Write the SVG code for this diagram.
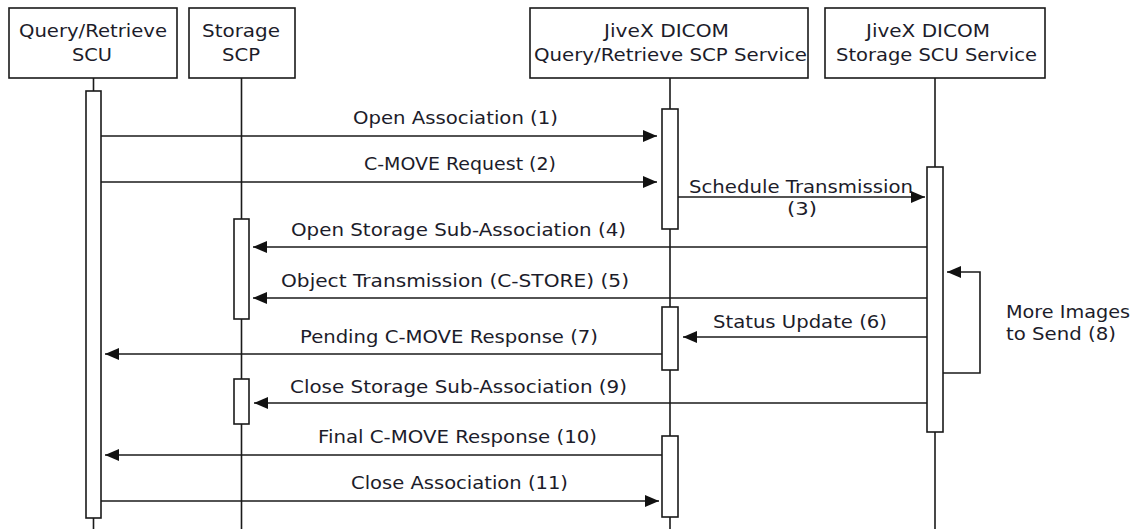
<svg xmlns="http://www.w3.org/2000/svg" width="1136" height="529" viewBox="0 0 1136 529">
  <defs>
    <style>
      .box { fill: #ffffff; stroke: #1a1a1a; stroke-width: 1.6; }
      .life { stroke: #1a1a1a; stroke-width: 1.6; fill: none; }
      .bar { fill: #ffffff; stroke: #1a1a1a; stroke-width: 1.6; }
      .msg { stroke: #1a1a1a; stroke-width: 1.6; fill: none; marker-end: url(#head); }
      text { font-family: "DejaVu Sans", Verdana, sans-serif; font-size: 17px; fill: #1c1c2a; }
    </style>
    <marker id="head" markerUnits="userSpaceOnUse" viewBox="0 0 14 12" refX="14" refY="6" markerWidth="14" markerHeight="12" orient="auto">
      <path d="M0,0 L14,6 L0,12 Z" fill="#111111"/>
    </marker>
  </defs>
  <rect width="1136" height="529" fill="#ffffff"/>

  <!-- lifeline: Query/Retrieve SCU -->
  <g id="node-qr-scu">
    <rect class="box" x="9" y="8" width="168" height="70"/>
    <text x="19" y="37" textLength="148" lengthAdjust="spacingAndGlyphs">Query/Retrieve</text>
    <text x="72" y="61" textLength="40" lengthAdjust="spacingAndGlyphs">SCU</text>
    <line class="life" x1="93.5" y1="78" x2="93.5" y2="529"/>
    <rect class="bar" x="86" y="91" width="15" height="427"/>
  </g>

  <!-- lifeline: Storage SCP -->
  <g id="node-storage-scp">
    <rect class="box" x="189" y="8" width="106" height="70"/>
    <text x="202" y="37" textLength="78" lengthAdjust="spacingAndGlyphs">Storage</text>
    <text x="222" y="61" textLength="38" lengthAdjust="spacingAndGlyphs">SCP</text>
    <line class="life" x1="241.5" y1="78" x2="241.5" y2="529"/>
    <rect class="bar" x="234" y="219" width="15" height="100"/>
    <rect class="bar" x="234" y="379" width="15" height="45"/>
  </g>

  <!-- lifeline: JiveX DICOM Query/Retrieve SCP Service -->
  <g id="node-qr-scp">
    <rect class="box" x="530" y="8" width="278" height="70"/>
    <text x="604" y="37" textLength="125" lengthAdjust="spacingAndGlyphs">JiveX DICOM</text>
    <text x="534" y="61" textLength="273" lengthAdjust="spacingAndGlyphs">Query/Retrieve SCP Service</text>
    <line class="life" x1="670" y1="78" x2="670" y2="529"/>
    <rect class="bar" x="662" y="109" width="16" height="120"/>
    <rect class="bar" x="662" y="307" width="16" height="63"/>
    <rect class="bar" x="662" y="436" width="16" height="81"/>
  </g>

  <!-- lifeline: JiveX DICOM Storage SCU Service -->
  <g id="node-storage-scu">
    <rect class="box" x="825" y="8" width="220" height="70"/>
    <text x="866" y="37" textLength="124" lengthAdjust="spacingAndGlyphs">JiveX DICOM</text>
    <text x="836" y="61" textLength="201" lengthAdjust="spacingAndGlyphs">Storage SCU Service</text>
    <line class="life" x1="935" y1="78" x2="935" y2="529"/>
    <rect class="bar" x="927" y="167" width="16" height="265"/>
  </g>

  <!-- messages -->
  <g id="connectors">
    <path class="msg" d="M101,136 H657"/>
    <text x="353" y="124" textLength="205" lengthAdjust="spacingAndGlyphs">Open Association (1)</text>

    <path class="msg" d="M101,182 H657"/>
    <text x="364" y="170" textLength="192" lengthAdjust="spacingAndGlyphs">C-MOVE Request (2)</text>

    <path class="msg" d="M678,197 H925"/>
    <text x="689" y="193" textLength="224" lengthAdjust="spacingAndGlyphs">Schedule Transmission</text>
    <text x="787" y="215" textLength="30" lengthAdjust="spacingAndGlyphs">(3)</text>

    <path class="msg" d="M927,247 H253"/>
    <text x="291" y="236" textLength="335" lengthAdjust="spacingAndGlyphs">Open Storage Sub-Association (4)</text>

    <path class="msg" d="M927,298 H253"/>
    <text x="281" y="287" textLength="348" lengthAdjust="spacingAndGlyphs">Object Transmission (C-STORE) (5)</text>

    <path class="msg" d="M927,337 H683"/>
    <text x="713" y="328" textLength="174" lengthAdjust="spacingAndGlyphs">Status Update (6)</text>

    <path class="msg" d="M662,354 H105"/>
    <text x="300" y="343" textLength="298" lengthAdjust="spacingAndGlyphs">Pending C-MOVE Response (7)</text>

    <path class="msg" d="M943,373 H980 V272 H947"/>
    <text x="1006" y="318" textLength="124" lengthAdjust="spacingAndGlyphs">More Images</text>
    <text x="1006" y="340" textLength="110" lengthAdjust="spacingAndGlyphs">to Send (8)</text>

    <path class="msg" d="M927,403 H254"/>
    <text x="290" y="393" textLength="337" lengthAdjust="spacingAndGlyphs">Close Storage Sub-Association (9)</text>

    <path class="msg" d="M662,455 H105"/>
    <text x="318" y="443" textLength="279" lengthAdjust="spacingAndGlyphs">Final C-MOVE Response (10)</text>

    <path class="msg" d="M101,501 H659"/>
    <text x="351" y="489" textLength="217" lengthAdjust="spacingAndGlyphs">Close Association (11)</text>
  </g>
</svg>
